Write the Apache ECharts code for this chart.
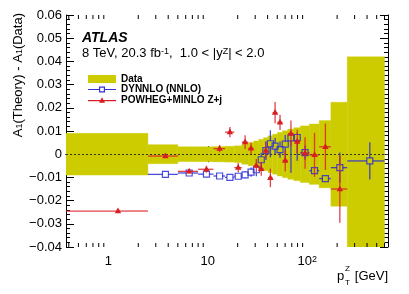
<!DOCTYPE html>
<html><head><meta charset="utf-8">
<script src="https://cdn.jsdelivr.net/npm/echarts@6/dist/echarts.min.js"></script>
<style>html,body{margin:0;padding:0;background:#fff}#c{width:409px;height:294px}</style>
</head><body><div id="c"></div>
<script>
// ---- data ----
const binEdges = [0, 2.5, 5.0, 8.0, 11.4, 14.9, 18.5, 22.0, 25.5, 29.0, 32.6, 36.4, 40.4, 44.9, 50.2, 56.4, 63.9, 73.4, 85.4, 105.0, 132.0, 173.0, 253.0, 600.0];
const dataErr = [0.0090, 0.0041, 0.0032, 0.0032, 0.0033, 0.0034, 0.0036, 0.0043, 0.0050, 0.0057, 0.0064, 0.0071, 0.0079, 0.0086, 0.0094, 0.0101, 0.0108, 0.0114, 0.0122, 0.0130, 0.0145, 0.0224, 0.0420];
const dynnloVal = [null, -0.0087, -0.0081, -0.0086, -0.0094, -0.0100, -0.0095, -0.0089, -0.0077, -0.0067, -0.0024, 0.0015, 0.0045, 0.0035, 0.0020, 0.0043, 0.0070, 0.0072, 0.0007, -0.0071, -0.0105, -0.0058, -0.0029];
const dynnloErrUp = [null, 0.0007, 0.0006, 0.0008, 0.0009, 0.0010, 0.0012, 0.0015, 0.0020, 0.0028, 0.0030, 0.0040, 0.0058, 0.0035, 0.0035, 0.0040, 0.0025, 0.0022, 0.0030, 0.0008, 0.0008, 0.0065, 0.0080];
const dynnloErrDown = [null, 0.0007, 0.0006, 0.0008, 0.0009, 0.0010, 0.0012, 0.0015, 0.0020, 0.0028, 0.0030, 0.0040, 0.0058, 0.0035, 0.0035, 0.0070, 0.0150, 0.0100, 0.0030, 0.0008, 0.0008, 0.0065, 0.0080];
const powhegVal = [-0.0245, -0.0008, -0.0074, -0.0065, 0.0024, 0.0095, -0.0058, 0.0052, 0.0025, -0.0049, -0.0063, 0.0016, -0.0102, 0.0179, 0.0137, -0.0027, 0.0089, 0.0055, 0.0005, -0.0003, 0.0032, -0.0150, null];
const powhegErr = [0.0008, 0.0006, 0.0009, 0.0015, 0.0016, 0.0022, 0.0020, 0.0030, 0.0025, 0.0028, 0.0030, 0.0035, 0.0040, 0.0046, 0.0033, 0.0046, 0.0056, 0.0050, 0.0068, 0.0095, 0.0100, 0.0145, null];
const xTickLabels = {'0': '1', '1': '10', '2': '10{sup|2}'};
const legendNames = ['Data', 'DYNNLO (NNLO)', 'POWHEG+MINLO Z+j'];

const X_MIN = 0.375, X_MAX = 650, Y_MIN = -0.04, Y_MAX = 0.06;
const FONT = 'Liberation Sans';
const C_BAND = '#cccc00', C_BLUE = 'rgba(45,45,215,0.85)', C_RED = 'rgba(220,35,40,0.85)';

// minor log ticks (2..9 per decade)
const xMinorTicks = [];
for (let d = -1; d <= 2; d++) for (let k = 2; k <= 9; k++) {
  const v = k * Math.pow(10, d);
  if (v > X_MIN && v < X_MAX) xMinorTicks.push(v);
}

const bandData = dataErr.map((e, i) => [binEdges[i], binEdges[i + 1], e]);
const dynData = dynnloVal.map((v, i) => [binEdges[i], binEdges[i + 1], v, dynnloErrUp[i], dynnloErrDown[i]]);
const powData = powhegVal.map((v, i) => [binEdges[i], binEdges[i + 1], v, powhegErr[i], powhegErr[i]]);

function bandItem(params, api) {
  const lo = Math.max(api.value(0), X_MIN), hi = api.value(1), e = api.value(2);
  const p1 = api.coord([lo, e]), p2 = api.coord([hi, -e]);
  return {type: 'rect', shape: {x: p1[0], y: p1[1], width: p2[0] - p1[0], height: p2[1] - p1[1]},
    style: {fill: C_BAND, stroke: C_BAND, lineWidth: 0.4}};
}

function pointItem(kind) {
  return function (params, api) {
    const v = api.value(2);
    if (v == null || isNaN(v)) return null;
    const lo = Math.max(api.value(0), X_MIN), hi = api.value(1);
    const c = (api.value(0) + hi) / 2;
    const eu = api.value(3), ed = api.value(4);
    const pc = api.coord([c, v]), pl = api.coord([lo, v]), ph = api.coord([hi, v]);
    const pu = api.coord([c, v + eu]), pd = api.coord([c, v - ed]);
    const col = kind === 'sq' ? C_BLUE : C_RED;
    const ls = {stroke: col, lineWidth: 1.3};
    const h = kind === 'sq' ? 3 : 0;
    const ch = [];
    const seg = (x1, y1, x2, y2) => ch.push({type: 'line', shape: {x1, y1, x2, y2}, style: ls});
    if (pc[0] - pl[0] > h) seg(pl[0], pc[1], pc[0] - h, pc[1]);
    if (ph[0] - pc[0] > h) seg(pc[0] + h, pc[1], ph[0], pc[1]);
    if (pc[1] - pu[1] > h) seg(pc[0], pu[1], pc[0], pc[1] - h);
    if (pd[1] - pc[1] > h) seg(pc[0], pc[1] + h, pc[0], pd[1]);
    if (kind === 'sq') {
      ch.push({type: 'rect', shape: {x: pc[0] - 3, y: pc[1] - 3, width: 6, height: 6},
        style: {fill: 'none', stroke: col, lineWidth: 1.2}});
    } else {
      ch.push({type: 'polygon', shape: {points: [[pc[0], pc[1] - 3.6], [pc[0] + 3.2, pc[1] + 2.2], [pc[0] - 3.2, pc[1] + 2.2]]},
        style: {fill: 'rgb(215,30,35)'}});
    }
    return {type: 'group', children: ch};
  };
}

function minorTickItem(params, api) {
  const x = api.value(0);
  const pb = api.coord([x, Y_MIN]), pt = api.coord([x, Y_MAX]);
  const st = {stroke: '#000', lineWidth: 1};
  return {type: 'group', children: [
    {type: 'line', shape: {x1: pb[0], y1: pb[1], x2: pb[0], y2: pb[1] - 4}, style: st},
    {type: 'line', shape: {x1: pt[0], y1: pt[1], x2: pt[0], y2: pt[1] + 4}, style: st}
  ]};
}

const xAxisBase = {
  type: 'log', logBase: 10, min: X_MIN, max: X_MAX,
  axisLine: {show: true, lineStyle: {color: '#000', width: 1}},
  axisTick: {show: true, inside: true, length: 8, lineStyle: {color: '#000'}},
  splitLine: {show: false}, minorTick: {show: false}, minorSplitLine: {show: false}
};
const yAxisBase = {
  type: 'value', min: Y_MIN, max: Y_MAX, interval: 0.01,
  axisLine: {show: true, lineStyle: {color: '#000', width: 1}},
  axisTick: {show: true, inside: true, length: 8, lineStyle: {color: '#000'}},
  minorTick: {show: true, splitNumber: 5, length: 4, lineStyle: {color: '#000'}},
  splitLine: {show: false}, minorSplitLine: {show: false}
};

const chart = echarts.init(document.getElementById('c'), null, {renderer: 'canvas'});
chart.setOption({
  animation: false,
  backgroundColor: '#fff',
  grid: {left: 66, right: 21, top: 15, bottom: 47, containLabel: false},
  xAxis: [
    Object.assign({}, xAxisBase, {position: 'bottom',
      axisLabel: {show: true, margin: 8, color: '#000', fontFamily: FONT, fontSize: 13,
        formatter: function (v) {
          const k = Math.log10(v);
          if (Math.abs(k - Math.round(k)) > 1e-6) return '';
          const s = xTickLabels[String(Math.round(k))];
          return s === undefined ? '' : s;
        },
        rich: {sup: {fontSize: 9, fontFamily: FONT, color: '#000', verticalAlign: 'top', lineHeight: 8}}
      }}),
    Object.assign({}, xAxisBase, {position: 'top', axisLabel: {show: false}})
  ],
  yAxis: [
    Object.assign({}, yAxisBase, {position: 'left',
      axisLabel: {show: true, margin: 4, color: '#000', fontFamily: FONT, fontSize: 13,
        formatter: function (v) {
          if (Math.abs(v) < 1e-9) return '0';
          return (v < 0 ? '\u2212' : '') + Math.abs(v).toFixed(2);
        }}}),
    Object.assign({}, yAxisBase, {position: 'right', axisLabel: {show: false}})
  ],
  legend: {
    left: 88, top: 74, padding: 0, orient: 'vertical', itemWidth: 28, itemHeight: 8, itemGap: 0.5,
    selectedMode: false,
    textStyle: {fontFamily: FONT, fontWeight: 'bold', fontSize: 10, color: '#000', lineHeight: 10},
    data: [
      {name: legendNames[0], icon: 'rect', itemStyle: {color: C_BAND}},
      {name: legendNames[1], icon: 'path://M0,2.4H11V0H17V2.4H28V3.6H17V6H11V3.6H0Z M12.2,1.2V4.8H15.8V1.2Z', itemStyle: {color: 'rgb(50,50,215)'}},
      {name: legendNames[2], icon: 'path://M0,2.9H28V4.1H0Z M14,0L17,5.6H11Z', itemStyle: {color: 'rgb(215,30,35)'}}
    ]
  },
  graphic: [
    {type: 'text', x: 82, y: 31, style: {text: 'ATLAS', fill: '#000', font: 'italic bold 14px "Liberation Sans"'}},
    {type: 'text', x: 82, y: 47, style: {
      text: '8 TeV, 20.3 fb{sup|-1},  1.0 < |y{sup|Z}| < 2.0', fill: '#000', font: '13px "Liberation Sans"',
      rich: {sup: {fontSize: 9, fontFamily: FONT, verticalAlign: 'top', lineHeight: 9}}}},
    {type: 'text', x: 18, y: 13, rotation: Math.PI / 2, style: {
      text: 'A{sub|1}(Theory) - A{sub|1}(Data)', fill: '#000', font: '13px "Liberation Sans"',
      align: 'right', verticalAlign: 'middle',
      rich: {sub: {fontSize: 9, fontFamily: FONT, verticalAlign: 'bottom', lineHeight: 9}}}},
    {type: 'text', x: 337, y: 270, style: {text: 'p', fill: '#000', font: '13px "Liberation Sans"'}},
    {type: 'text', x: 345, y: 265, style: {text: 'Z', fill: '#000', font: '8px "Liberation Sans"'}},
    {type: 'text', x: 345, y: 279, style: {text: 'T', fill: '#000', font: '8px "Liberation Sans"'}},
    {type: 'text', x: 388, y: 270, style: {text: '[GeV]', fill: '#000', font: '13px "Liberation Sans"', align: 'right'}}
  ],
  series: [
    {name: legendNames[0], type: 'custom', xAxisIndex: 0, yAxisIndex: 0, clip: true, z: 1,
      renderItem: bandItem, encode: {x: [0, 1], y: 2}, data: bandData,
      markLine: {silent: true, symbol: 'none', label: {show: false}, z: 3,
        lineStyle: {color: '#333', width: 1.1, type: [2, 2]}, data: [{yAxis: 0}]}},
    {name: 'minorTicks', type: 'custom', xAxisIndex: 0, yAxisIndex: 0, z: 5, silent: true,
      renderItem: minorTickItem, encode: {x: 0}, data: xMinorTicks.map(v => [v])},
    {name: legendNames[1], type: 'custom', xAxisIndex: 0, yAxisIndex: 0, clip: true, z: 3,
      renderItem: pointItem('sq'), encode: {x: [0, 1], y: 2}, data: dynData},
    {name: legendNames[2], type: 'custom', xAxisIndex: 0, yAxisIndex: 0, clip: true, z: 4,
      renderItem: pointItem('tri'), encode: {x: [0, 1], y: 2}, data: powData}
  ]
});
</script></body></html>
